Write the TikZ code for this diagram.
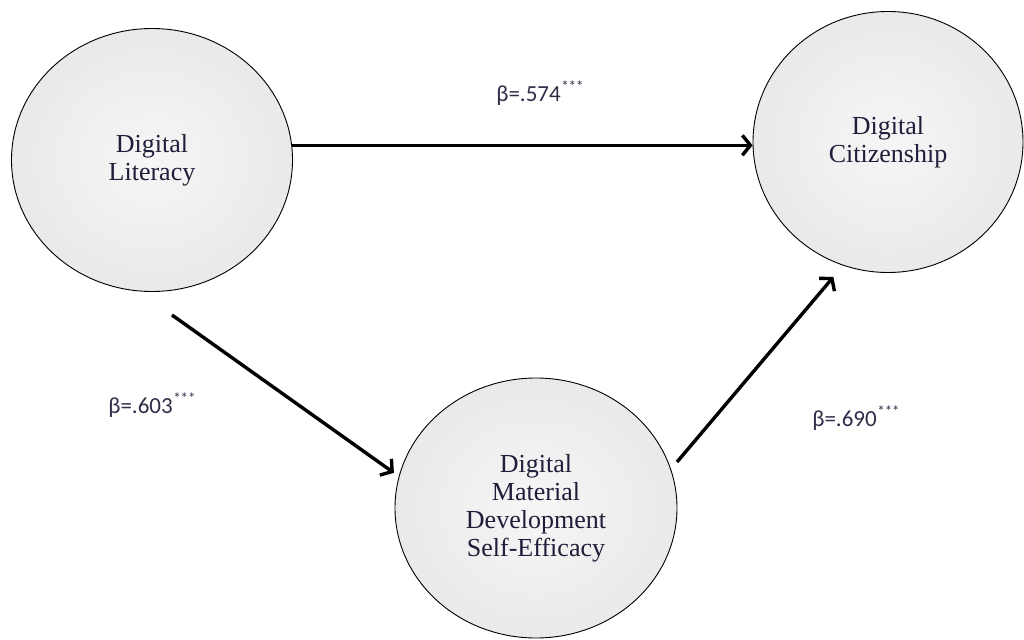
\documentclass[tikz,border=0pt]{standalone}
\usepackage{fontspec}
\setmainfont{Liberation Serif}
\newfontfamily\labfont{Carlito}
\usetikzlibrary{shapes.geometric,arrows.meta}
\definecolor{varText}{HTML}{1E1E3A}
\definecolor{coefText}{HTML}{2E2E48}
\newcommand{\mystars}{\raisebox{0.42em}{\fontsize{15}{15}\selectfont\kern0.5pt***}}
\begin{document}
\begin{tikzpicture}[x=1pt,y=-1pt,
  varnode/.style={ellipse, draw=black, line width=0.9pt, inner color=gray!7, outer color=gray!17,
    align=center, inner sep=0pt, text=varText, font=\fontsize{26}{28}\selectfont},
  patharrow/.style={line width=3.4pt, -{Straight Barb[length=8pt,width=20pt]}},
  coef/.style={text=coefText, font=\labfont\fontsize{23}{26}\selectfont, inner sep=0pt}]
\useasboundingbox[fill=white] (0,0) rectangle (1024,639);
\node[varnode, minimum width=281pt, minimum height=263pt] (L) at (152,160) {Digital\\Literacy};
\node[varnode, minimum width=270pt, minimum height=261pt] (R) at (888,142) {Digital\\Citizenship};
\node[varnode, minimum width=282pt, minimum height=260pt] (M) at (536,508) {Digital\\Material\\Development\\Self-Efficacy};
\coordinate (s1) at (172,315);
\coordinate (s2) at (677,462);
\draw[patharrow] (L.6) -- (L.6 -| R.west);
\draw[patharrow, shorten >=6pt] (s1) -- (M.167);
\draw[patharrow, shorten >=15pt] (s2) -- (R.250.4);
\node[coef] (c1) at (540,93) {β=.574\mystars};
\node[coef] (c2) at (152,405) {β=.603\mystars};
\node[coef] (c3) at (856,418) {β=.690\mystars};
\end{tikzpicture}
\end{document}
